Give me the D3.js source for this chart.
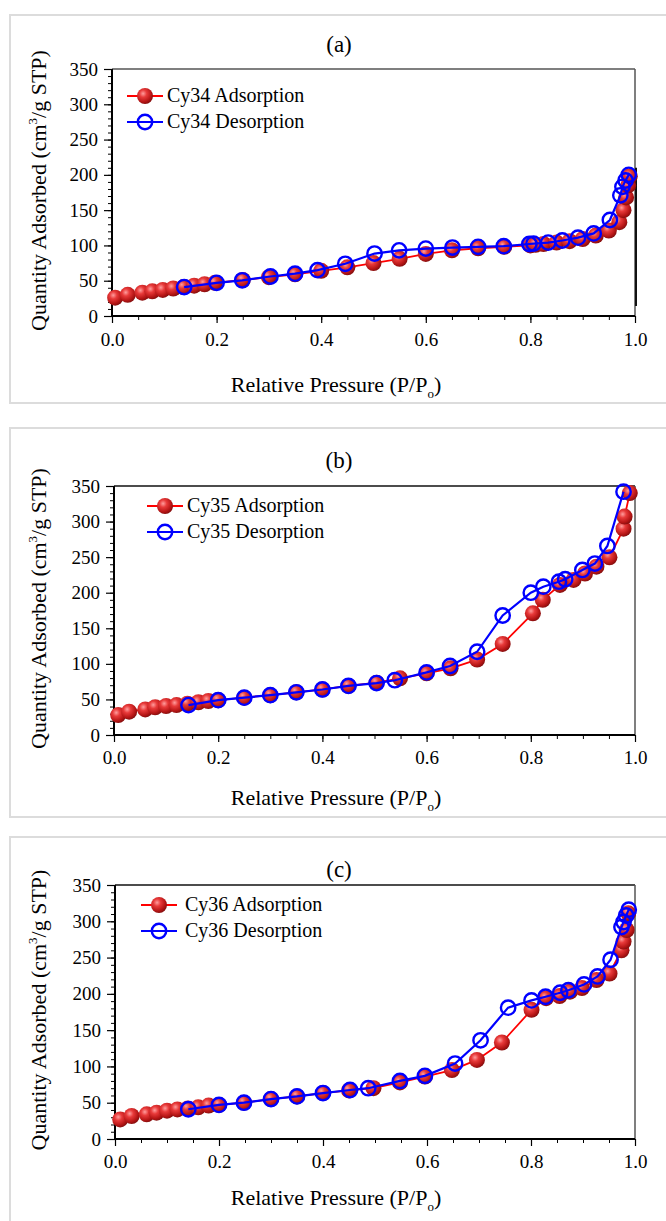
<!DOCTYPE html>
<html><head><meta charset="utf-8">
<script src="https://cdn.jsdelivr.net/npm/d3@7"></script>
<style>body{margin:0;background:#fff}svg{display:block}text{font-family:"Liberation Serif","Times New Roman",serif;fill:#000}</style>
</head><body><svg id="c" width="666" height="1221"></svg>
<script>
// ---- data ----
const xTicks = [0, 0.2, 0.4, 0.6, 0.8, 1.0];
const yTicks = [0, 50, 100, 150, 200, 250, 300, 350];
const panelLabels = ["(a)", "(b)", "(c)"];
const sampleNames = ["Cy34", "Cy35", "Cy36"];

const ads34P = [0.006,0.03,0.058,0.077,0.097,0.117,0.137,0.157,0.177,0.197,0.25,0.30,0.35,0.40,0.45,0.50,0.55,0.60,0.65,0.70,0.75,0.80,0.81,0.825,0.85,0.875,0.90,0.925,0.95,0.97,0.978,0.983,0.987,0.99];
const ads34V = [26,30,33,35,37,39,41,43,45,47,51,55,59,64,69,75,81,88,93,96,98,100,101,102,104,106,109,114,121,133,150,168,185,198];
const des34P = [0.988,0.982,0.976,0.972,0.952,0.921,0.891,0.861,0.834,0.806,0.798,0.749,0.70,0.651,0.60,0.549,0.502,0.446,0.393,0.35,0.303,0.249,0.20,0.138];
const des34V = [200,192,183,171,136,117,111,107,104,102.6,102,99,98,97,95.5,93,88.5,74,65,60,56,50.6,47,41];

const ads35P = [0.008,0.029,0.06,0.079,0.1,0.12,0.141,0.162,0.181,0.2,0.25,0.30,0.35,0.40,0.45,0.504,0.549,0.60,0.646,0.697,0.746,0.804,0.823,0.856,0.882,0.904,0.926,0.951,0.978,0.98,0.99];
const ads35V = [28,32.8,36,39,40.8,42,44,46,47.8,49,52.5,56,60,64,69,73.5,79.7,86.7,93.7,106,128,171,190,211,218,227,236.6,249.8,290,307,340];
const des35P = [0.978,0.947,0.923,0.899,0.866,0.854,0.824,0.80,0.746,0.697,0.645,0.60,0.539,0.504,0.45,0.40,0.35,0.30,0.25,0.20,0.143];
const des35V = [342,265.7,241,232,219,215.5,208.5,200,168,117,97,88,77,73,69,64,60,56,52.5,49,42];

const ads36P = [0.01,0.032,0.061,0.08,0.1,0.12,0.14,0.16,0.18,0.2,0.248,0.30,0.35,0.40,0.45,0.497,0.548,0.596,0.648,0.696,0.744,0.801,0.829,0.855,0.875,0.898,0.926,0.951,0.974,0.978,0.984,0.987];
const ads36V = [27,31.7,34,36.3,39,40.8,42,43.6,46,47,50,55,58.7,63.3,67,70,78,86,95,109,133,178,194,197,203,208,219,228,260,272,288,311];
const des36P = [0.988,0.983,0.978,0.974,0.953,0.928,0.902,0.872,0.856,0.828,0.801,0.756,0.703,0.654,0.596,0.548,0.487,0.452,0.40,0.35,0.30,0.248,0.20,0.141];
const des36V = [316,308,299,292,247,224,213,205,201.5,196,191,181,136,104,87,80,70,67.5,63.3,58.7,55,50,47,41];

const adsP = [ads34P, ads35P, ads36P], adsV = [ads34V, ads35V, ads36V];
const desP = [des34P, des35P, des36P], desV = [des34V, des35V, des36V];

// ---- layout ----
const frames = [
  {y0: 15, y1: 403, plot: {x0: 112, x1: 635, y0: 69, y1: 316}, legY: 96, legLine: [127, 163], legText: 167, titleY: 52, tickY: 346, xTitleY: 392},
  {y0: 428, y1: 817, plot: {x0: 114, x1: 635, y0: 486, y1: 735}, legY: 506, legLine: [147, 183], legText: 187, titleY: 468, tickY: 764, xTitleY: 805},
  {y0: 837, y1: 1240, plot: {x0: 115, x1: 635, y0: 885, y1: 1139}, legY: 905, legLine: [141, 177], legText: 185, titleY: 877, tickY: 1168, xTitleY: 1205}
];

const svg = d3.select("#c");
const defs = svg.append("defs");
const grad = defs.append("radialGradient").attr("id", "ball").attr("cx", "38%").attr("cy", "35%").attr("r", "65%");
grad.append("stop").attr("offset", "0%").attr("stop-color", "#ff9d9d");
grad.append("stop").attr("offset", "35%").attr("stop-color", "#e83a3a");
grad.append("stop").attr("offset", "80%").attr("stop-color", "#b51515");
grad.append("stop").attr("offset", "100%").attr("stop-color", "#8a1010");

function ball(sel) {
  sel.attr("r", 8).attr("fill", "url(#ball)").attr("stroke", "none");
}
function ring(sel) {
  sel.attr("r", 7.2).attr("fill", "none").attr("stroke", "#0000ff").attr("stroke-width", 2.4);
}

frames.forEach((f, i) => {
  const g = svg.append("g");
  g.append("rect").attr("x", 10).attr("y", f.y0).attr("width", 670).attr("height", f.y1 - f.y0)
    .attr("fill", "#fff").attr("stroke", "#dcdcdc").attr("stroke-width", 2);
  const p = f.plot;
  const x = d3.scaleLinear().domain([0, 1]).range([p.x0, p.x1]);
  const y = d3.scaleLinear().domain([0, 350]).range([p.y1, p.y0]);

  // plot box (top, right)
  g.append("line").attr("x1", p.x0).attr("x2", p.x1).attr("y1", p.y0).attr("y2", p.y0).attr("stroke", i === 0 ? "#555" : "#111").attr("stroke-width", 1.5);
  g.append("line").attr("x1", p.x1).attr("x2", p.x1).attr("y1", p.y0).attr("y2", p.y1).attr("stroke", "#555").attr("stroke-width", 1.5);
  if (i === 0) {
    g.append("line").attr("x1", p.x1 + 1).attr("x2", p.x1 + 1).attr("y1", y(210)).attr("y2", y(14)).attr("stroke", "#111").attr("stroke-width", 2);
  }

  // minor ticks
  const yAxisMinor = d3.axisLeft(y).tickValues(d3.range(0, 351, 10)).tickSize(4).tickFormat("");
  g.append("g").attr("transform", `translate(${p.x0},0)`).call(yAxisMinor).call(s => s.select(".domain").remove()).selectAll("line").attr("stroke", "#000");
  const xAxisMinor = d3.axisBottom(x).tickValues(d3.range(0, 1.0001, 0.05)).tickSize(4).tickFormat("");
  g.append("g").attr("transform", `translate(0,${p.y1})`).call(xAxisMinor).call(s => s.select(".domain").remove()).selectAll("line").attr("stroke", "#000");

  // major axes
  const yAxis = d3.axisLeft(y).tickValues(yTicks).tickSize(8).tickPadding(6).tickFormat(d3.format("d"));
  const ya = g.append("g").attr("transform", `translate(${p.x0},0)`).call(yAxis);
  ya.select(".domain").attr("stroke", "#000").attr("stroke-width", 2).attr("d", `M0,${p.y1}V${p.y0}`);
  ya.selectAll("line").attr("stroke", "#000").attr("stroke-width", 1.2).attr("x1", 0);
  ya.selectAll("text").attr("font-size", 19).attr("font-family", "Liberation Serif").attr("fill", "#000");

  const xAxis = d3.axisBottom(x).tickValues(xTicks).tickSize(7).tickFormat(d3.format(".1f"));
  const xa = g.append("g").attr("transform", `translate(0,${p.y1})`).call(xAxis);
  xa.select(".domain").attr("stroke", "#000").attr("stroke-width", 2).attr("d", `M${p.x0},0H${p.x1}`);
  xa.selectAll("line").attr("stroke", "#000").attr("stroke-width", 1.2);
  xa.selectAll("text").attr("font-size", 19).attr("font-family", "Liberation Serif").attr("fill", "#000")
    .attr("dy", null).attr("y", f.tickY - p.y1);

  // titles
  g.append("text").attr("x", 339).attr("y", f.titleY).attr("text-anchor", "middle").attr("font-size", 23).text(panelLabels[i]);
  const yt = g.append("text").attr("transform", `translate(46,${(p.y0 + p.y1) / 2 - 2}) rotate(-90)`).attr("text-anchor", "middle").attr("font-size", 22);
  yt.append("tspan").text("Quantity Adsorbed (cm");
  yt.append("tspan").attr("font-size", 13).attr("dy", -9).text("3");
  yt.append("tspan").attr("dy", 9).text("/g STP)");
  const xt = g.append("text").attr("x", 336).attr("y", f.xTitleY).attr("text-anchor", "middle").attr("font-size", 22);
  xt.append("tspan").text("Relative Pressure (P/P");
  xt.append("tspan").attr("font-size", 13).attr("dy", 6).text("o");
  xt.append("tspan").attr("dy", -6).text(")");

  // data
  const ads = adsP[i].map((v, k) => [v, adsV[i][k]]);
  const des = desP[i].map((v, k) => [v, desV[i][k]]);
  const line = d3.line().x(d => x(d[0])).y(d => y(d[1]));
  g.append("path").datum(ads).attr("d", line).attr("fill", "none").attr("stroke", "#ff0000").attr("stroke-width", 1.8);
  g.append("g").selectAll("circle").data(ads).join("circle").attr("cx", d => x(d[0])).attr("cy", d => y(d[1])).call(ball);
  g.append("path").datum(des).attr("d", line).attr("fill", "none").attr("stroke", "#0000ff").attr("stroke-width", 2.2);
  g.append("g").selectAll("circle").data(des).join("circle").attr("cx", d => x(d[0])).attr("cy", d => y(d[1])).call(ring);

  // legend
  const lg = g.append("g");
  const items = [{lab: sampleNames[i] + " Adsorption", c: "#ff0000", t: "a"}, {lab: sampleNames[i] + " Desorption", c: "#0000ff", t: "d"}];
  items.forEach((it, k) => {
    const ly = f.legY + k * 26;
    lg.append("line").attr("x1", f.legLine[0]).attr("x2", f.legLine[1]).attr("y1", ly).attr("y2", ly).attr("stroke", it.c).attr("stroke-width", it.t === "a" ? 1.8 : 2.2);
    const cx = (f.legLine[0] + f.legLine[1]) / 2;
    const c = lg.append("circle").attr("cx", cx).attr("cy", ly);
    if (it.t === "a") c.call(ball); else c.call(ring);
    lg.append("text").attr("x", f.legText).attr("y", ly + 6).attr("font-size", 20).text(it.lab);
  });
});
</script></body></html>
